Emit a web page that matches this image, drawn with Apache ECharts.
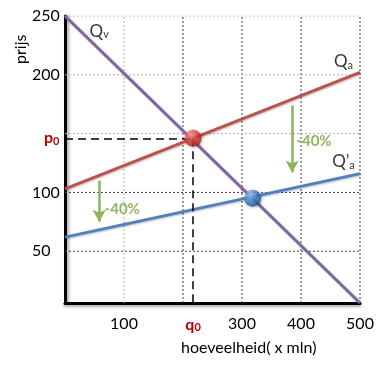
<!DOCTYPE html>
<html><head><meta charset="utf-8">
<script src="https://cdn.jsdelivr.net/npm/echarts@6/dist/echarts.min.js"></script>
<style>html,body{margin:0;padding:0;background:#fff}#c{width:386px;height:371px}</style>
</head><body><div id="c"></div>
<script>
// data
const xRange = [0, 500];
const yRange = [6, 250];
const xGridLight = [100];
const xGridDark = [200, 300, 400, 500];
const yGridLight = [150, 200, 250];
const yGridDark = [50, 100];
const xLabelValues = [100, 217, 300, 400, 500];
const yLabelValues = [50, 100, 146, 200, 250];
const qvLine = [[0, 250], [500, 6]];
const qaLine = [[0, 103], [500, 202]];
const qa2Line = [[0, 62], [500, 116]];
const eqOld = [217, 146];
const eqNew = [318, 95];
const arrowLeft = [[58, 110], [58, 75]];
const arrowRight = [[385, 174], [385, 117]];
const pctLabels = [[97, 86, '-40%'], [422, 144, '-40%']];
const curveLabels = [[58, 237, 'v', ''], [472, 211, 'a', ''], [472, 126, 'a', '\u2019']];

const FONT = 'Lato';
const chart = echarts.init(document.getElementById('c'), null, {renderer: 'canvas'});

function sphere(c0, c1, c2) {
  return new echarts.graphic.RadialGradient(0.35, 0.3, 0.75, [
    {offset: 0, color: c0}, {offset: 0.55, color: c1}, {offset: 1, color: c2}]);
}
const gridLineSeries = (data, color) => ({
  type: 'line', data, showSymbol: false, symbol: 'none', silent: true, z: 1,
  lineStyle: {color, type: [2, 2], width: 1}
});
const gridSeriesList = [];
xGridLight.forEach(v => gridSeriesList.push(gridLineSeries([[v, yRange[0]], [v, yRange[1]]], '#b0b0b0')));
xGridDark.forEach(v => gridSeriesList.push(gridLineSeries([[v, yRange[0]], [v, yRange[1]]], '#404040')));
yGridLight.forEach(v => gridSeriesList.push(gridLineSeries([[xRange[0], v], [xRange[1], v]], '#b0b0b0')));
yGridDark.forEach(v => gridSeriesList.push(gridLineSeries([[xRange[0], v], [xRange[1], v]], '#404040')));

const lineSeries = (data, color) => ({
  type: 'line', data, showSymbol: false, symbol: 'none', silent: true, z: 3,
  lineStyle: {color, width: 3, shadowColor: 'rgba(0,0,0,0.25)', shadowBlur: 2, shadowOffsetX: 1, shadowOffsetY: 1}
});

chart.setOption({
  animation: false,
  textStyle: {fontFamily: FONT},
  grid: {left: 65, right: 26, top: 16, bottom: 68},
  xAxis: {
    type: 'value', min: xRange[0], max: xRange[1],
    splitLine: {show: false},
    axisTick: {show: false},
    axisLine: {show: true, lineStyle: {color: '#000', width: 3, shadowColor: 'rgba(0,0,0,0.35)', shadowBlur: 3, shadowOffsetY: 2}},
    axisLabel: {
      customValues: xLabelValues, margin: 13, fontSize: 16, color: '#000', fontFamily: FONT,
      formatter: v => v === 217 ? '{q|q}{s|0}' : String(v),
      rich: {q: {fontSize: 16, fontWeight: 'bold', color: '#c00000', fontFamily: FONT},
             s: {fontSize: 11, fontWeight: 'bold', color: '#c00000', verticalAlign: 'bottom', padding: [6, 0, 0, 0], fontFamily: FONT}}
    }
  },
  yAxis: {
    type: 'value', min: yRange[0], max: yRange[1],
    splitLine: {show: false},
    axisTick: {show: false},
    axisLine: {show: true, lineStyle: {color: '#000', width: 3, shadowColor: 'rgba(0,0,0,0.35)', shadowBlur: 3, shadowOffsetX: 2}},
    axisLabel: {
      customValues: yLabelValues, margin: 33, align: 'left', fontSize: 16, color: '#000', fontFamily: FONT,
      formatter: v => v === 146 ? '{p|p}{s|0}' : String(v),
      rich: {p: {fontSize: 16, fontWeight: 'bold', color: '#c00000', padding: [0, 0, 0, 12], fontFamily: FONT},
             s: {fontSize: 11, fontWeight: 'bold', color: '#c00000', verticalAlign: 'bottom', padding: [6, 0, 0, 0], fontFamily: FONT}}
    }
  },
  graphic: [
    {type: 'text', x: 13, y: 64, rotation: Math.PI / 2, style: {text: 'prijs', font: '16px Lato', fill: '#000', verticalAlign: 'top'}},
    {type: 'text', left: 181, top: 340, style: {text: 'hoeveelheid( x mln)', font: '16px Lato', fill: '#000'}}
  ],
  series: gridSeriesList.concat([
    {
      type: 'line', data: [], silent: true, z: 2,
      markLine: {
        silent: true, symbol: 'none', label: {show: false}, animation: false,
        lineStyle: {color: '#000', type: [8, 5], width: 1.5},
        data: [
          [{coord: [xRange[0], eqOld[1]]}, {coord: eqOld}],
          [{coord: eqOld}, {coord: [eqOld[0], yRange[0]]}]
        ]
      }
    },
    lineSeries(qvLine, '#8064a2'),
    lineSeries(qaLine, '#c0504d'),
    lineSeries(qa2Line, '#4f81bd'),
    {
      type: 'line', data: [], silent: true, z: 4,
      markLine: {
        silent: true, symbol: ['none', 'arrow'], symbolSize: [10, 12], label: {show: false}, animation: false,
        lineStyle: {color: '#8fb35a', type: 'solid', width: 2.5},
        data: [
          [{coord: arrowLeft[0]}, {coord: arrowLeft[1]}],
          [{coord: arrowRight[0]}, {coord: arrowRight[1]}]
        ]
      }
    },
    {
      type: 'scatter', silent: true, symbolSize: 0, z: 5,
      data: pctLabels.map(d => ({value: [d[0], d[1]], label: {show: true, formatter: d[2]}})),
      label: {position: 'inside', fontSize: 15, fontWeight: 'bold', color: '#77a03c', fontFamily: FONT}
    },
    {
      type: 'scatter', silent: true, symbolSize: 0, z: 5,
      data: curveLabels.map(d => ({value: [d[0], d[1]], label: {show: true, formatter: '{q|Q' + d[3] + '}{s|' + d[2] + '}'}})),
      label: {position: 'inside', rich: {
        q: {fontSize: 17, color: '#000', fontFamily: FONT},
        s: {fontSize: 11, color: '#000', verticalAlign: 'bottom', padding: [7, 0, 0, 0], fontFamily: FONT}}}
    },
    {
      type: 'scatter', silent: true, symbolSize: 17, z: 10,
      data: [
        {value: eqOld, itemStyle: {color: sphere('#ff9c96', '#de3f38', '#9e1c18'), shadowColor: 'rgba(0,0,0,0.35)', shadowBlur: 3, shadowOffsetX: 1, shadowOffsetY: 1}},
        {value: eqNew, itemStyle: {color: sphere('#a8cdf5', '#3f7fcc', '#1d4f8e'), shadowColor: 'rgba(0,0,0,0.35)', shadowBlur: 3, shadowOffsetX: 1, shadowOffsetY: 1}}
      ]
    }
  ])
});
</script></body></html>
